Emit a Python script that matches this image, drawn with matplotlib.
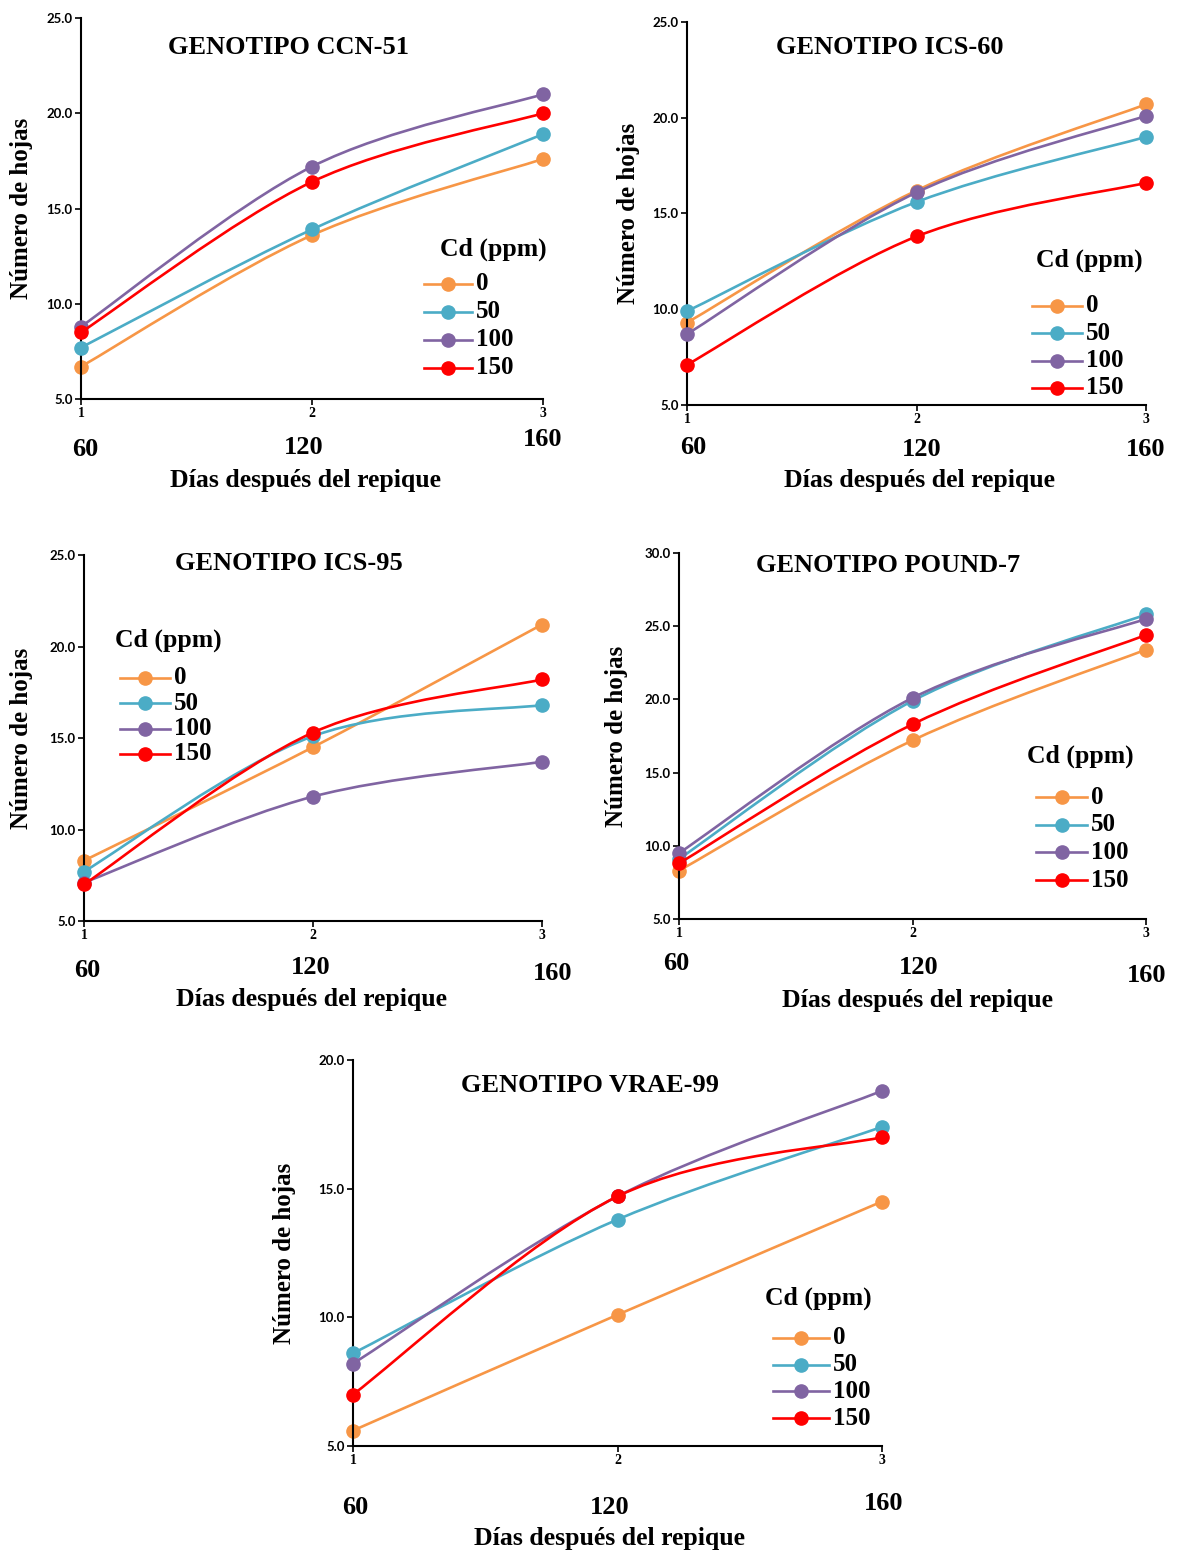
import matplotlib
matplotlib.use("Agg")
import matplotlib.pyplot as plt
from matplotlib.path import Path
from matplotlib.patches import PathPatch
from matplotlib.lines import Line2D

plt.rcParams['font.family'] = ['Liberation Serif', 'DejaVu Serif']
plt.rcParams['font.weight'] = 'bold'

W, H = 1177, 1554

x_pos = [1, 2, 3]
day_labels = ["60", "120", "160"]
doses = ["0", "50", "100", "150"]
colors = ["#F79646", "#4BACC6", "#8064A2", "#FF0000"]

titles = ["GENOTIPO CCN-51", "GENOTIPO ICS-60", "GENOTIPO ICS-95",
          "GENOTIPO POUND-7", "GENOTIPO VRAE-99"]

ccn51 = [[6.7, 13.6, 17.6], [7.7, 13.9, 18.9], [8.8, 17.2, 21.0], [8.5, 16.4, 20.0]]
ics60 = [[9.3, 16.2, 20.7], [9.9, 15.6, 19.0], [8.7, 16.1, 20.1], [7.1, 13.8, 16.6]]
ics95 = [[8.3, 14.5, 21.2], [7.7, 15.1, 16.8], [7.1, 11.8, 13.7], [7.0, 15.3, 18.2]]
pound7 = [[8.3, 17.2, 23.4], [9.1, 19.9, 25.8], [9.5, 20.1, 25.5], [8.8, 18.3, 24.4]]
vrae99 = [[5.6, 10.1, 14.5], [8.6, 13.8, 17.4], [8.2, 14.7, 18.8], [7.0, 14.7, 17.0]]
datasets = [ccn51, ics60, ics95, pound7, vrae99]

y_limits = [(5, 25), (5, 25), (5, 25), (5, 30), (5, 20)]
y_steps = [5, 5, 5, 5, 5]

# layout in pixels: axes left, right, top, bottom
boxes = [(81, 543, 18, 399), (687, 1146, 22, 405), (84, 542, 555, 921),
         (679, 1146, 553, 919), (353, 882, 1060, 1446)]
title_pos = [(288, 47), (890, 48), (289, 564), (888, 565), (590, 1086)]
# legend: title (x,y), first entry y, entry spacing, line x0, x1
legend_spec = [((493, 249), 284, 28, 424, 472),
               ((1089, 260), 306, 27.3, 1032, 1082),
               ((168, 640), 678, 25.3, 120, 170),
               ((1080, 756), 797, 27.7, 1036, 1087),
               ((818, 1298), 1338, 26.7, 773, 829)]
ylabel_x = [22, 628, 22, 617, 285]
cat_pos = [[(85, 450), (304, 447), (543, 440)],
           [(693, 447), (922, 449), (1146, 449)],
           [(87, 970), (311, 967), (553, 974)],
           [(676, 963), (919, 968), (1147, 975)],
           [(355, 1507), (610, 1507), (884, 1504)]]
xlabel_pos = [(305, 480), (920, 481), (312, 999), (918, 1000), (610, 1538)]

fig = plt.figure(figsize=(W / 100, H / 100), dpi=100)


def fx(px):
    return px / W


def fy(py):
    return 1 - py / H


def smooth_path(xs, ys):
    pts = list(zip(xs, ys))
    n = len(pts)
    verts = [pts[0]]
    codes = [Path.MOVETO]
    for i in range(n - 1):
        p0 = pts[i - 1] if i > 0 else pts[i]
        p1 = pts[i]
        p2 = pts[i + 1]
        p3 = pts[i + 2] if i + 2 < n else pts[i + 1]
        c1 = (p1[0] + (p2[0] - p0[0]) / 6, p1[1] + (p2[1] - p0[1]) / 6)
        c2 = (p2[0] - (p3[0] - p1[0]) / 6, p2[1] - (p3[1] - p1[1]) / 6)
        verts += [c1, c2, p2]
        codes += [Path.CURVE4] * 3
    return Path(verts, codes)


for k in range(5):
    x0, x1, yt, yb = boxes[k]
    ax = fig.add_axes([fx(x0), fy(yb), fx(x1 - x0), (yb - yt) / H])
    lo, hi = y_limits[k]
    ax.set_xlim(1, 3)
    ax.set_ylim(lo, hi)
    ax.set_xticks(x_pos)
    ax.set_xticklabels([str(v) for v in x_pos], fontsize=10, fontweight='bold')
    yt_vals = list(range(lo, hi + 1, y_steps[k]))
    ax.set_yticks(yt_vals)
    ax.set_yticklabels([f"{v:.1f}" for v in yt_vals], fontsize=9.5, fontweight='bold',
                       family=['Lato', 'DejaVu Sans'])
    ax.tick_params(axis='both', direction='out', length=4, width=1.2, pad=2)
    for s in ['top', 'right']:
        ax.spines[s].set_visible(False)
    for s in ['left', 'bottom']:
        ax.spines[s].set_linewidth(1.5)
    ax.patch.set_alpha(0)

    data = datasets[k]
    for j, series in enumerate(data):
        patch = PathPatch(smooth_path(x_pos, series), facecolor='none',
                          edgecolor=colors[j], lw=1.9, zorder=2 + j, clip_on=False)
        ax.add_patch(patch)
        ax.plot(x_pos, series, ls='none', marker='o', ms=9.5, color=colors[j],
                zorder=2.5 + j, clip_on=False)

    tx, ty = title_pos[k]
    fig.text(fx(tx), fy(ty), titles[k], ha='center', va='center', fontsize=19, fontweight='bold')

    (ltx, lty), ly0, dy, lx0, lx1 = legend_spec[k]
    fig.text(fx(ltx), fy(lty), "Cd (ppm)", ha='center', va='center', fontsize=18.5, fontweight='bold')
    for j in range(4):
        yy = ly0 + j * dy
        fig.add_artist(Line2D([fx(lx0), fx(lx1)], [fy(yy), fy(yy)], color=colors[j], lw=1.9,
                              transform=fig.transFigure))
        fig.add_artist(Line2D([fx((lx0 + lx1) / 2)], [fy(yy)], color=colors[j], marker='o', ms=9.5,
                              ls='none', transform=fig.transFigure))
        fig.text(fx(lx1 + 4), fy(yy), doses[j], ha='left', va='center', fontsize=18, fontweight='bold')

    fig.text(fx(ylabel_x[k]), (fy(yt) + fy(yb)) / 2, "Número de hojas", rotation=90,
             ha='center', va='center', fontsize=18, fontweight='bold')
    for (cx, cy), lab in zip(cat_pos[k], day_labels):
        fig.text(fx(cx), fy(cy), lab, ha='center', va='center', fontsize=19, fontweight='bold')
    xx, xy = xlabel_pos[k]
    fig.text(fx(xx), fy(xy), "Días después del repique", ha='center', va='center',
             fontsize=18.5, fontweight='bold')

fig.savefig("out.png", dpi=100)
